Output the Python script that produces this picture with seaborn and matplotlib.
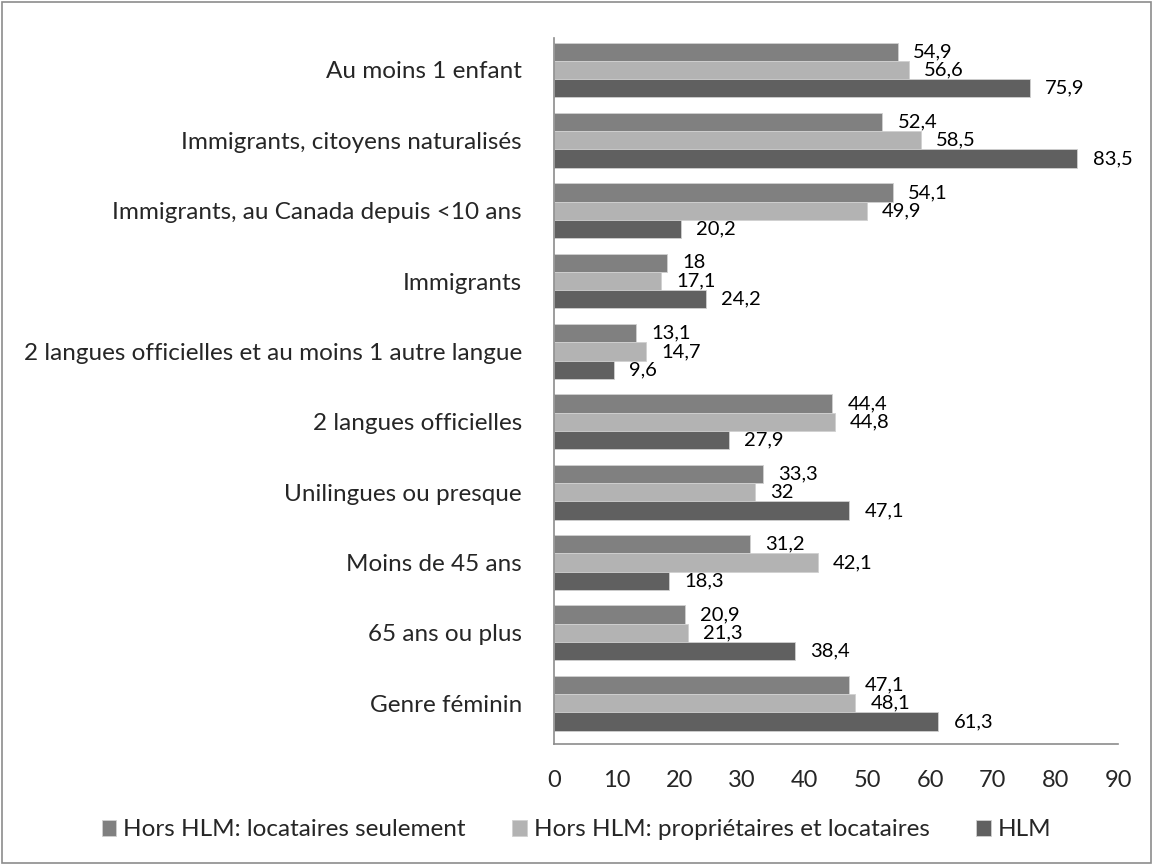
import numpy as np
import pandas as pd
import matplotlib
matplotlib.use('Agg')
import matplotlib.pyplot as plt
import seaborn as sns

categories = ['Au moins 1 enfant',
              'Immigrants, citoyens naturalisés',
              'Immigrants, au Canada depuis <10 ans',
              'Immigrants',
              '2 langues officielles et au moins 1 autre langue',
              '2 langues officielles',
              'Unilingues ou presque',
              'Moins de 45 ans',
              '65 ans ou plus',
              'Genre féminin']

series_names = ['Hors HLM: locataires seulement',
                'Hors HLM: propriétaires et locataires',
                'HLM']

locataires = [54.9, 52.4, 54.1, 18, 13.1, 44.4, 33.3, 31.2, 20.9, 47.1]
proprietaires = [56.6, 58.5, 49.9, 17.1, 14.7, 44.8, 32, 42.1, 21.3, 48.1]
hlm = [75.9, 83.5, 20.2, 24.2, 9.6, 27.9, 47.1, 18.3, 38.4, 61.3]

colors = ['#808080', '#b3b3b3', '#606060']

rows = []
for s, vals in zip(series_names, [locataires, proprietaires, hlm]):
    for c, v in zip(categories, vals):
        rows.append({'cat': c, 'serie': s, 'val': v})
df = pd.DataFrame(rows)

sns.set_style('white')
plt.rcParams['font.family'] = ['Lato', 'DejaVu Sans']

fig = plt.figure(figsize=(11.53, 8.65), dpi=100)
ax = fig.add_axes([0.4805, 0.1399, 0.4892, 0.8162])

sns.barplot(data=df, y='cat', x='val', hue='serie', order=categories,
            hue_order=series_names, palette=colors, width=0.78,
            orient='h', ax=ax, errorbar=None, saturation=1,
            edgecolor='#d0d0d0', linewidth=0.6)

def fmt(v):
    s = ('%.1f' % v).rstrip('0').rstrip('.')
    return s.replace('.', ',')

for cont in ax.containers:
    ax.bar_label(cont, labels=[fmt(b.get_width()) for b in cont],
                 padding=11, fontsize=14.5, color='black')

ax.set_xlim(0, 90)
ax.set_xticks(range(0, 91, 10))
ax.set_ylim(9.58, -0.455)
ax.set_xlabel('')
ax.set_ylabel('')
ax.tick_params(axis='x', length=0, pad=19, labelsize=17)
ax.tick_params(axis='y', length=0, pad=23, labelsize=17.5)
for sp in ['top', 'right']:
    ax.spines[sp].set_visible(False)
for sp in ['left', 'bottom']:
    ax.spines[sp].set_color('#8c8c8c')
    ax.spines[sp].set_linewidth(1.2)

handles, labels = ax.get_legend_handles_labels()
ax.legend_.remove()
fig.legend(handles, labels, loc='center', bbox_to_anchor=(0.5, 0.0405),
           ncol=3, frameon=False, fontsize=17.5, handlelength=0.6,
           handleheight=0.6, handletextpad=0.3, columnspacing=1.9)

fig.patches.append(plt.Rectangle((0.002, 0.002), 0.996, 0.996,
                                 transform=fig.transFigure, fill=False,
                                 edgecolor='#8c8c8c', linewidth=1.2))

fig.savefig('out.png', dpi=100)
